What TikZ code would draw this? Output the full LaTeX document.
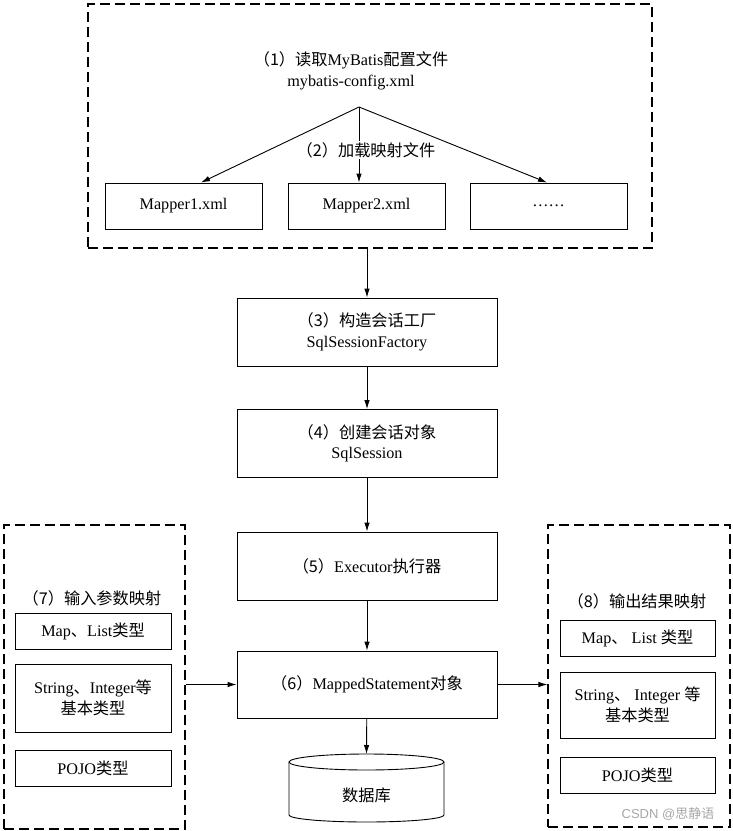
\documentclass[tikz,border=0pt]{standalone}
\usepackage{fontspec}
\setmainfont{Liberation Serif}
\newfontfamily\cjk{Noto Sans CJK SC}
\newfontfamily\wmsans{Liberation Sans}
\usetikzlibrary{arrows.meta}
\newcommand{\zh}[1]{{\cjk #1}}
\begin{document}
\begin{tikzpicture}[x=1pt,y=-1pt,
  every node/.style={font=\fontsize{16.2}{20.5}\selectfont, inner sep=0pt},
  box/.style={draw, line width=0.9pt, align=center},
  dbox/.style={draw, line width=1.2pt, dash pattern=on 10pt off 5pt},
  arr/.style={-{Latex[length=9pt,width=5.5pt]}, line width=0.9pt}]
\useasboundingbox (0,0) rectangle (733,831);

% top dashed group
\node[dbox, minimum width=564pt, minimum height=244pt] (topg) at (370,126) {};
\node[align=center] (t1) at (351,71) {\zh{（1）读取}MyBatis\zh{配置文件}\\mybatis-config.xml};
\coordinate (apex) at (359,107);
\node[box, minimum width=157pt, minimum height=46pt] (m1) at (183.5,206) {Mapper1.xml};
\node[box, minimum width=157pt, minimum height=46pt] (m2) at (366.5,206) {Mapper2.xml};
\node[box, minimum width=157pt, minimum height=46pt] (m3) at (548.5,206) {……};
\draw[arr] (apex) -- (m1.north -| 201,0);
\draw[arr] (apex) -- (m3.north -| 547,0);
\draw[arr] (apex) -- (m2.north -| apex);
\node[fill=white, inner sep=1pt] (t2) at (366,150) {\zh{（2）加载映射文件}};

% main column
\node[box, minimum width=260pt, minimum height=68pt] (f3) at (367,332) {\zh{（3）构造会话工厂}\\SqlSessionFactory};
\node[box, minimum width=260pt, minimum height=68pt] (f4) at (367,443.5) {\zh{（4）创建会话对象}\\SqlSession};
\node[box, minimum width=260pt, minimum height=68pt] (f5) at (367,566) {\zh{（5）}Executor\zh{执行器}};
\node[box, minimum width=260pt, minimum height=67pt] (f6) at (367,684.5) {\zh{（6）}MappedStatement\zh{对象}};
\draw[arr] (topg.south -| f3) -- (f3.north);
\draw[arr] (f3) -- (f4);
\draw[arr] (f4) -- (f5);
\draw[arr] (f5) -- (f6);

% database cylinder
\coordinate (dbtop) at (366.5,754);
\draw[line width=0.9pt] (289,762) -- (289,815) arc[start angle=180, end angle=0, x radius=77.5, y radius=7] -- (444,762);
\draw[line width=0.9pt] (366.5,762) ellipse [x radius=77.5, y radius=8];
\node (db) at (366.5,795) {\zh{数据库}};
\draw[arr] (f6) -- (dbtop);

% left group
\node[dbox, minimum width=181pt, minimum height=304pt] (lg) at (94.5,677) {};
\node (lt) at (92,598) {\zh{（7）输入参数映射}};
\node[box, minimum width=156pt, minimum height=36pt] (l1) at (93,631) {Map\zh{、}List\zh{类型}};
\node[box, minimum width=156pt, minimum height=68pt] (l2) at (93,698) {String\zh{、}Integer\zh{等}\\\zh{基本类型}};
\node[box, minimum width=156pt, minimum height=36pt] (l3) at (93,768) {POJO\zh{类型}};
\draw[arr] (lg.east |- f6) -- (f6.west);

% right group
\node[dbox, minimum width=182pt, minimum height=302pt] (rg) at (639,676) {};
\node (rt) at (637,601) {\zh{（8）输出结果映射}};
\node[box, minimum width=155pt, minimum height=36pt] (r1) at (637.5,638) {Map\zh{、} List \zh{类型}};
\node[box, minimum width=155pt, minimum height=66pt] (r2) at (637.5,705) {String\zh{、} Integer \zh{等}\\\zh{基本类型}};
\node[box, minimum width=155pt, minimum height=36pt] (r3) at (637.5,775) {POJO\zh{类型}};
\draw[arr] (f6.east) -- (rg.west |- f6);

% watermark
\node[text=black!35, font=\fontsize{13}{15}\selectfont] (wm) at (668,814) {\wmsans CSDN @\zh{思静语}};
\end{tikzpicture}
\end{document}
